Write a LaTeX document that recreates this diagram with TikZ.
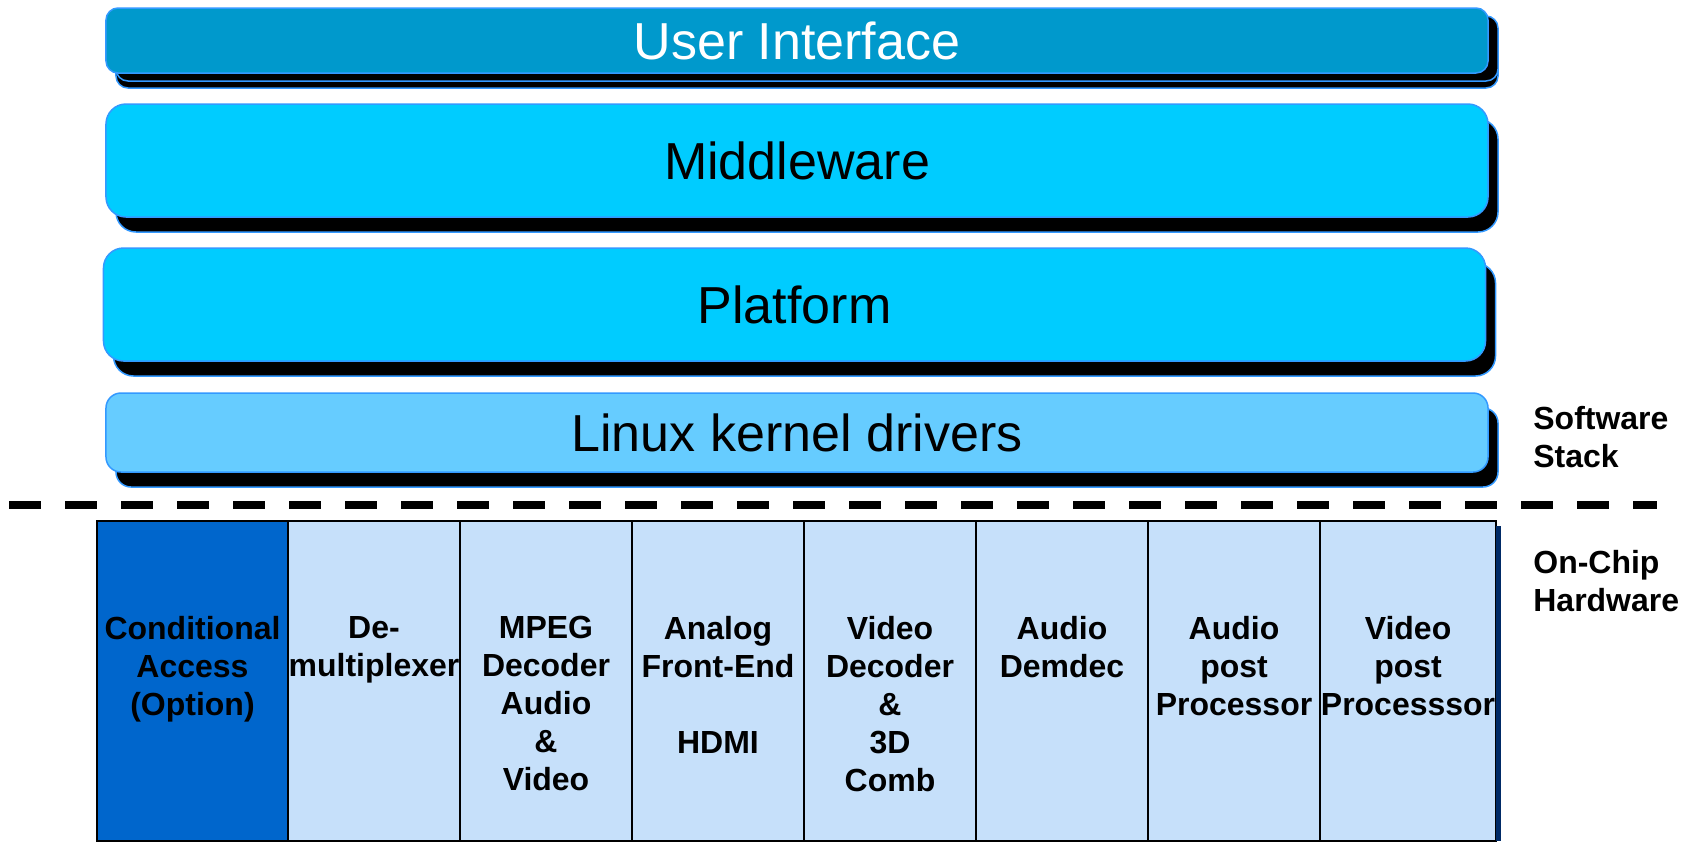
\documentclass[tikz,border=0pt]{standalone}
\usepackage{fontspec}
\setmainfont{Liberation Sans}
\usetikzlibrary{positioning,shadows}
\definecolor{uiblue}{HTML}{0099CC}
\definecolor{midblue}{HTML}{00CCFF}
\definecolor{drvblue}{HTML}{66CCFF}
\definecolor{edgeblue}{HTML}{3399FF}
\definecolor{cellblue}{RGB}{198,224,250}
\definecolor{cablue}{HTML}{0066CC}
\definecolor{navy}{HTML}{002A66}
\tikzset{
  layer/.style={draw=edgeblue,line width=0.3mm,minimum width=276.4mm,inner sep=0pt,
    font=\fontsize{29.6}{34}\selectfont,
    drop shadow={shadow xshift=2mm,shadow yshift=-3mm,fill=black,draw=edgeblue,opacity=1}},
  cell/.style={draw=black,line width=0.4mm,fill=cellblue,minimum width=34.4mm,
    minimum height=64mm,inner sep=0pt,outer sep=0pt},
  celltext/.style={anchor=north,yshift=-19mm,align=center,inner sep=0pt,
    font=\fontsize{18.2}{21.6}\selectfont\bfseries},
  side/.style={anchor=north west,align=left,inner sep=0pt,
    font=\fontsize{18.2}{21.6}\selectfont\bfseries}
}
\begin{document}
\begin{tikzpicture}[x=0.2mm,y=-0.2mm]
  \useasboundingbox (0,0) rectangle (1681,842);
  % software stack
  \node[layer,fill=uiblue,text=white,minimum height=13mm,rounded corners=2.4mm,
    drop shadow={shadow xshift=2mm,shadow yshift=-1.6mm,fill=black,draw=edgeblue,opacity=1}]
    (ui) at (797,40.5) {User Interface};
  \node[layer,fill=midblue,minimum height=22.6mm,rounded corners=4mm] (mw) at (797,160.5) {Middleware};
  \node[layer,fill=midblue,minimum height=22.6mm,rounded corners=4mm] (pf) at (794.5,304.5) {Platform};
  \node[layer,fill=drvblue,minimum height=15.8mm,rounded corners=3mm] (drv) at (797,432.5) {Linux kernel drivers};
  \draw[line width=1.6mm,dash pattern=on 6.4mm off 4.8mm] (9,505) -- (1657,505);
  % on-chip hardware
  \node[cell,fill=cablue,minimum width=38.2mm,
    label={[celltext]north:Conditional\\Access\\(Option)}] (ca) at (192.5,681) {};
  \node[cell,right=0pt of ca,label={[celltext]north:De-\\multiplexer}] (demux) {};
  \node[cell,right=0pt of demux,label={[celltext]north:MPEG\\Decoder\\Audio\\\&\\Video}] (mpeg) {};
  \node[cell,right=0pt of mpeg,label={[celltext]north:Analog\\Front-End\\[21.6pt]HDMI}] (afe) {};
  \node[cell,right=0pt of afe,label={[celltext]north:Video\\Decoder\\\&\\3D\\Comb}] (vdec) {};
  \node[cell,right=0pt of vdec,label={[celltext]north:Audio\\Demdec}] (adem) {};
  \node[cell,right=0pt of adem,label={[celltext]north:Audio\\post\\Processor}] (app) {};
  \node[cell,right=0pt of app,minimum width=35.2mm,label={[celltext]north:Video\\post\\Processsor}] (vpp) {};
  \fill[navy] ([yshift=-1mm]vpp.north east) rectangle ([xshift=1mm]vpp.south east);
  \node[side] (sw) at (1533,406) {Software\\Stack};
  \node[side] (hw) at (1533,550) {On-Chip\\Hardware};
\end{tikzpicture}
\end{document}
